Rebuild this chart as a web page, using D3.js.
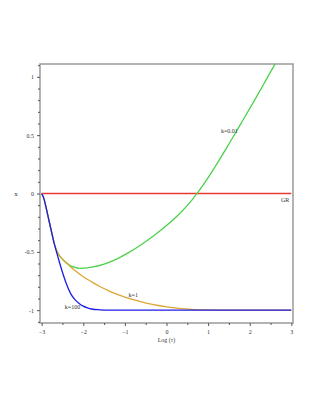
<!DOCTYPE html>
<html>
<head>
<meta charset="utf-8">
<script src="https://cdn.jsdelivr.net/npm/d3@7"></script>
<style>
  body { margin: 0; background: #fff; }
  text { font-family: "Liberation Serif", "DejaVu Serif", serif; fill: #333; }
</style>
</head>
<body>
<div id="chart"></div>
<script>
/// DATA ///
const logTau_k100 = [-3, -2.95, -2.9, -2.85, -2.8, -2.7, -2.6, -2.5, -2.4, -2.3, -2.2, -2.1, -2.0, -1.9, -1.8, -1.6, -1.4, -1.0, 0, 1, 2, 3];
const x_k100 = [0, -0.04, -0.11, -0.19, -0.27, -0.425, -0.555, -0.675, -0.78, -0.86, -0.91, -0.942, -0.965, -0.98, -0.99, -0.997, -1, -1, -1, -1, -1, -1];

const logTau_k1 = [-3, -2.95, -2.9, -2.85, -2.8, -2.7, -2.65, -2.6, -2.55, -2.5, -2.45, -2.4, -2.3, -2.2, -2.1, -2.0, -1.8, -1.6, -1.4, -1.2, -1.0, -0.8, -0.6, -0.4, -0.2, 0, 0.3, 0.6, 1, 1.5, 2, 3];
const x_k1 = [0, -0.04, -0.11, -0.19, -0.27, -0.425, -0.48, -0.518, -0.544, -0.563, -0.58, -0.596, -0.63, -0.66, -0.688, -0.713, -0.757, -0.797, -0.832, -0.862, -0.888, -0.91, -0.929, -0.946, -0.96, -0.972, -0.985, -0.993, -0.998, -1, -1, -1];

const logTau_k001 = [-3, -2.95, -2.9, -2.85, -2.8, -2.7, -2.65, -2.6, -2.55, -2.5, -2.45, -2.4, -2.3, -2.2, -2.1, -2.0, -1.9, -1.8, -1.5, -1.2, -0.9, -0.6, -0.3, 0, 0.3, 0.6, 0.9, 1.2, 1.5, 1.8, 2.1, 2.4, 2.7];
const x_k001 = [0, -0.04, -0.11, -0.19, -0.27, -0.425, -0.48, -0.518, -0.544, -0.563, -0.58, -0.596, -0.62, -0.634, -0.641, -0.64, -0.637, -0.632, -0.605, -0.562, -0.505, -0.437, -0.36, -0.275, -0.178, -0.061, 0.082, 0.247, 0.424, 0.606, 0.79, 0.978, 1.167];

const logTau_GR = [-3, 3];
const x_GR = [0, 0];

const xMajorTicks = [-3, -2, -1, 0, 1, 2, 3];
const xMinorTicks = [-2.5, -1.5, -0.5, 0.5, 1.5, 2.5];
const yMajorTicks = [-1, -0.5, 0, 0.5, 1];
const yTickLabels = ["-1", "-0.5", "0", "0.5", "1"];
const yMinorTicks = [-1.1, -0.9, -0.8, -0.7, -0.6, -0.4, -0.3, -0.2, -0.1, 0.1, 0.2, 0.3, 0.4, 0.6, 0.7, 0.8, 0.9, 1.1];

const series = [
  { name: "GR", xs: logTau_GR, ys: x_GR, color: "#e83a34" },
  { name: "k=0.01", xs: logTau_k001, ys: x_k001, color: "#4cd24c" },
  { name: "k=1", xs: logTau_k1, ys: x_k1, color: "#dfa533" },
  { name: "k=100", xs: logTau_k100, ys: x_k100, color: "#1c1ce8" },
];

const curveLabels = [
  { text: "GR", lx: 2.85, ly: -0.055 },
  { text: "k=0.01", lx: 1.51, ly: 0.535 },
  { text: "k=1", lx: -0.8, ly: -0.87 },
  { text: "k=100", lx: -2.26, ly: -0.97 },
];

const width = 315;
const height = 407;

const svg = d3
  .select("#chart")
  .append("svg")
  .attr("width", width)
  .attr("height", height);

const xScale = d3.scaleLinear().domain([-3.04, 3.04]).range([40, 293]);
const yScale = d3.scaleLinear().domain([-1.11, 1.11]).range([323, 64]);

// clip for the curves
svg
  .append("clipPath")
  .attr("id", "plotClip")
  .append("rect")
  .attr("x", 40)
  .attr("y", 64)
  .attr("width", 253)
  .attr("height", 259);

// frame
svg
  .append("rect")
  .attr("x", 40)
  .attr("y", 64)
  .attr("width", 253)
  .attr("height", 259)
  .attr("fill", "none")
  .attr("stroke", "#9a9a9a")
  .attr("stroke-width", 1.5);

// x axis ticks
const xAxis = svg.append("g").attr("transform", "translate(0,323)");
xAxis
  .call(d3.axisBottom(xScale).tickValues(xMajorTicks).tickSize(3).tickFormat(d3.format("d")))
  .call((g) => g.select(".domain").remove());
xAxis
  .append("g")
  .call(d3.axisBottom(xScale).tickValues(xMinorTicks).tickSize(2).tickFormat(""))
  .call((g) => g.select(".domain").remove());
xAxis.selectAll("line").attr("stroke", "#555");
xAxis
  .selectAll("text")
  .attr("font-family", "Liberation Serif")
  .attr("font-size", 6)
  .attr("fill", "#333")
  .attr("dy", "0.9em");

// y axis ticks
const yAxis = svg.append("g").attr("transform", "translate(40,0)");
yAxis
  .call(d3.axisLeft(yScale).tickValues(yMajorTicks).tickSize(3).tickFormat((d, i) => yTickLabels[i]))
  .call((g) => g.select(".domain").remove());
yAxis
  .append("g")
  .call(d3.axisLeft(yScale).tickValues(yMinorTicks).tickSize(2).tickFormat(""))
  .call((g) => g.select(".domain").remove());
yAxis.selectAll("line").attr("stroke", "#555");
yAxis
  .selectAll("text")
  .attr("font-family", "Liberation Serif")
  .attr("font-size", 6)
  .attr("fill", "#333")
  .attr("x", -6);

// axis titles
svg
  .append("text")
  .attr("x", 16)
  .attr("y", 196)
  .attr("text-anchor", "middle")
  .attr("font-size", 7)
  .text("x");

svg
  .append("text")
  .attr("x", xScale(0))
  .attr("y", 342)
  .attr("text-anchor", "middle")
  .attr("font-size", 6)
  .text("Log (τ)");

// curves
const line = d3
  .line()
  .x((d) => xScale(d[0]))
  .y((d) => yScale(d[1]))
  .curve(d3.curveMonotoneX);

const curves = svg.append("g").attr("clip-path", "url(#plotClip)");

curves
  .selectAll(".curve")
  .data(series)
  .enter()
  .append("path")
  .attr("class", "curve")
  .attr("d", (s) => line(s.xs.map((v, i) => [v, s.ys[i]])))
  .attr("fill", "none")
  .attr("stroke", (s) => s.color)
  .attr("stroke-width", 1.3);

// curve labels
svg
  .selectAll(".curve-label")
  .data(curveLabels)
  .enter()
  .append("text")
  .attr("class", "curve-label")
  .attr("x", (d) => xScale(d.lx))
  .attr("y", (d) => yScale(d.ly))
  .attr("text-anchor", "middle")
  .attr("dy", "0.35em")
  .attr("font-size", 6)
  .attr("fill", "#222")
  .text((d) => d.text);
</script>
</body>
</html>
